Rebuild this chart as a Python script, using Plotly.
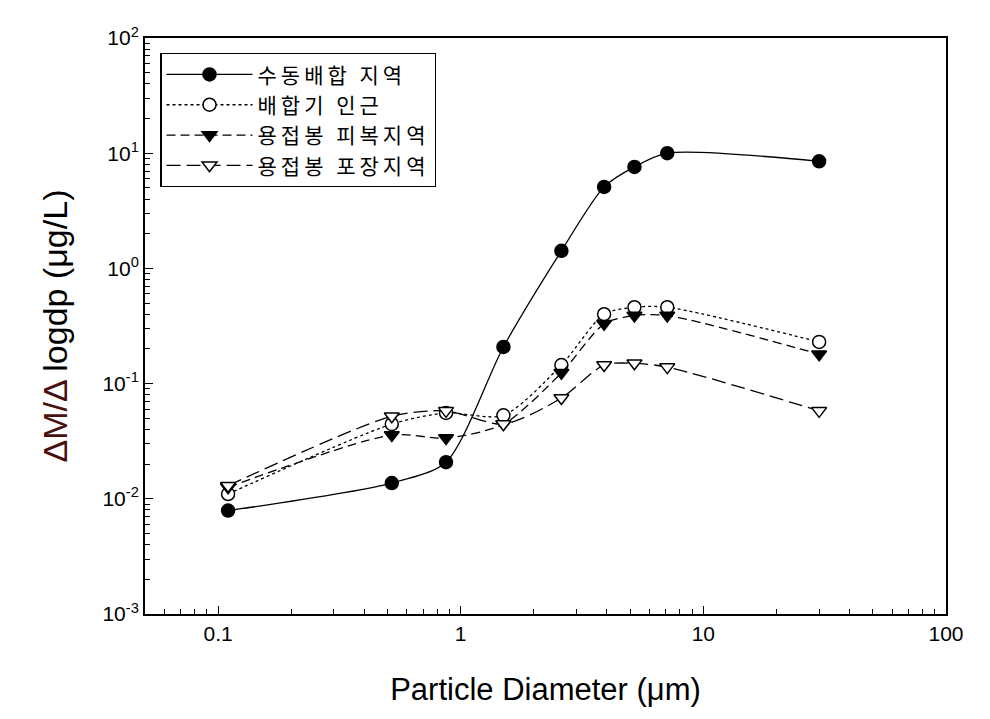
import plotly.graph_objects as go
import numpy as np

diam = [0.11, 0.52, 0.87, 1.5, 2.6, 3.9, 5.2, 7.1, 30]

names = ["수동배합 지역", "배합기 인근", "용접봉 피복지역", "용접봉 포장지역"]
manual = [0.0079, 0.0137, 0.0208, 0.208, 1.42, 5.1, 7.6, 10.0, 8.5]
mixer = [0.011, 0.0445, 0.0556, 0.053, 0.145, 0.40, 0.46, 0.46, 0.23]
coat = [0.0126, 0.0358, 0.0337, 0.0445, 0.124, 0.33, 0.39, 0.39, 0.18]
pack = [0.013, 0.052, 0.058, 0.0445, 0.075, 0.145, 0.15, 0.139, 0.058]

series = [manual, mixer, coat, pack]
symbols = ["circle", "circle", "triangle-down", "triangle-down"]
fills = ["black", "white", "black", "white"]
dashes = ["solid", "dot", "9px,5px", "14px,6px"]

xticks = [0.1, 1, 10, 100]
xticktext = ["0.1", "1", "10", "100"]
yticks = [1e-3, 1e-2, 1e-1, 1, 10, 100]
yticktext = ["10<sup>-3</sup>", "10<sup>-2</sup>", "10<sup>-1</sup>", "10<sup>0</sup>",
             "10<sup>1</sup>", "10<sup>2</sup>"]

fig = go.Figure()
for nm, ys, sym, fc, ds in zip(names, series, symbols, fills, dashes):
    fig.add_trace(go.Scatter(
        x=diam, y=ys, name="<span style='letter-spacing:4px'>" + nm + "</span>",
        mode="lines+markers",
        line=dict(color="black", width=1.3, dash=ds, shape="spline", smoothing=0.75),
        marker=dict(symbol=sym, size=13, color=fc,
                    line=dict(color="black", width=1.5)),
    ))

xminor = [m * 10 ** e for e in range(-2, 2) for m in range(2, 10) if 0.05 <= m * 10 ** e <= 100]
yminor = [m * 10 ** e for e in range(-3, 2) for m in range(2, 10)]

fig.update_layout(
    width=990, height=719,
    margin=dict(l=145, r=44, t=38, b=105),
    plot_bgcolor="white", paper_bgcolor="white",
    font=dict(family="Liberation Sans, Arial", color="black", size=20),
    showlegend=True,
    legend=dict(
        x=0.019, y=0.974, xanchor="left", yanchor="top",
        bordercolor="black", borderwidth=1.3, bgcolor="white",
        font=dict(family="Noto Sans CJK KR", size=21, color="black"),
        itemwidth=86, tracegroupgap=0,
    ),
    xaxis=dict(
        type="log", range=[np.log10(0.05), 2],
        tickmode="array", tickvals=xticks, ticktext=xticktext,
        ticks="inside", ticklen=8, tickwidth=1.3, tickcolor="black",
        showline=True, linecolor="black", linewidth=2, mirror=True,
        showgrid=False, zeroline=False,
        minor=dict(tickmode="array", tickvals=xminor, ticks="inside", ticklen=5,
                   tickwidth=1, tickcolor="black", showgrid=False),
        title=dict(text="Particle Diameter (μm)", font=dict(size=31), standoff=34),
        tickfont=dict(size=21),
    ),
    yaxis=dict(
        type="log", range=[-3, 2],
        tickmode="array", tickvals=yticks, ticktext=yticktext,
        ticks="inside", ticklen=8, tickwidth=1.3, tickcolor="black",
        showline=True, linecolor="black", linewidth=2, mirror=True,
        showgrid=False, zeroline=False,
        minor=dict(tickmode="array", tickvals=yminor, ticks="inside", ticklen=5,
                   tickwidth=1, tickcolor="black", showgrid=False),
        title=dict(text="<span style='color:#4a1010'>ΔM/Δ</span> logdp (μg/L)",
                   font=dict(size=34), standoff=24),
        tickfont=dict(size=21),
    ),
)

fig.write_html("out.html")
